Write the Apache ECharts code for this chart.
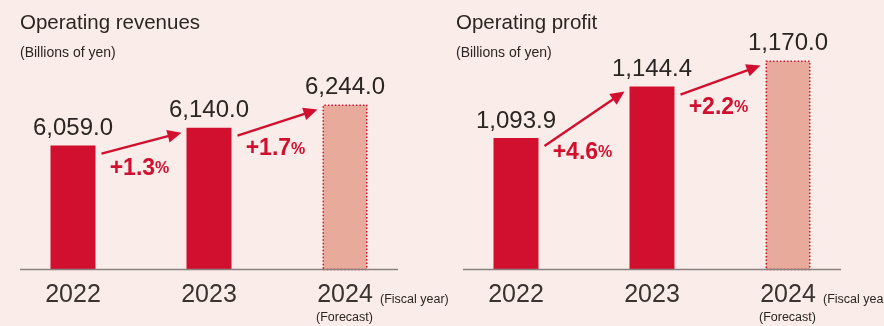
<!DOCTYPE html>
<html>
<head>
<meta charset="utf-8">
<script src="https://cdn.jsdelivr.net/npm/echarts@6/dist/echarts.min.js"></script>
<style>
  html, body { margin: 0; padding: 0; background: #faece8; }
  #chart { width: 884px; height: 326px; }
</style>
</head>
<body>
<div id="chart"></div>
<script>
// Fiscal years and results (billions of yen); the last year is a forecast
const years = ['2022', '2023', '2024'];
const revenue = [6059.0, 6140.0, 6244.0];
const profit = [1093.9, 1144.4, 1170.0];
const revenueGrowth = ['+1.3', '+1.7'];
const profitGrowth = ['+4.6', '+2.2'];
const titles = ['Operating revenues', 'Operating profit'];
const unitLabel = '(Billions of yen)';
const fiscalLabel = '(Fiscal year)';
const forecastLabel = '(Forecast)';
const forecastIndex = 2;

const RED = '#d10f2f';
const FORECAST_FILL = '#e8ab9b';
const TEXT = '#2b2523';
const FONT = '"Liberation Sans", Arial, Helvetica, sans-serif';

const panels = [
  { values: revenue, growth: revenueGrowth, min: 5500, max: 6549, left: 5, titleX: 20 },
  { values: profit, growth: profitGrowth, min: 965, max: 1193, left: 448, titleX: 456 }
];
const BAR_W = 45;

const chart = echarts.init(document.getElementById('chart'));

function fmt(v) {
  return v.toLocaleString('en-US', { minimumFractionDigits: 1, maximumFractionDigits: 1 });
}

chart.setOption({
  backgroundColor: '#faece8',
  textStyle: { fontFamily: FONT },
  animation: false,
  title: panels.flatMap((p, i) => [
    { text: titles[i], left: p.titleX, top: 13, padding: 0,
      textStyle: { fontSize: 20.5, fontWeight: 'normal', color: TEXT, fontFamily: FONT } },
    { text: unitLabel, left: p.titleX, top: 46, padding: 0,
      textStyle: { fontSize: 14, fontWeight: 'normal', color: TEXT, fontFamily: FONT } }
  ]),
  grid: panels.map(p => ({ left: p.left, width: 408, top: 37, bottom: 56.5 })),
  xAxis: panels.map((p, i) => ({
    type: 'category', gridIndex: i, data: years,
    axisLine: { show: false }, axisTick: { show: false },
    axisLabel: { fontSize: 25, color: '#3a3331', margin: 13, fontFamily: FONT }
  })),
  yAxis: panels.map((p, i) => ({
    type: 'value', gridIndex: i, min: p.min, max: p.max, show: false,
    splitLine: { show: false }
  })),
  series: panels.map((p, i) => ({
    type: 'bar', xAxisIndex: i, yAxisIndex: i, barWidth: BAR_W,
    data: p.values.map((v, k) => k === forecastIndex
      ? { value: v, itemStyle: { color: FORECAST_FILL, borderColor: RED, borderWidth: 1.5, borderType: [1.5, 2] } }
      : { value: v, itemStyle: { color: RED } }),
    label: {
      show: true, position: 'top', distance: 5,
      fontSize: 24, color: TEXT, fontFamily: FONT,
      formatter: d => fmt(d.value)
    }
  }))
});

// Annotations: baseline, growth arrows, growth labels and axis notes
function arrow(x1, y1, x2, y2) {
  const dx = x2 - x1, dy = y2 - y1, len = Math.hypot(dx, dy);
  const ux = dx / len, uy = dy / len;
  const headLen = 14, headHalf = 6.5;
  const bx = x2 - ux * headLen, by = y2 - uy * headLen;
  return [
    { type: 'line', z: 10, shape: { x1, y1, x2: bx + ux * 2, y2: by + uy * 2 },
      style: { stroke: RED, lineWidth: 2.4 } },
    { type: 'polygon', z: 10,
      shape: { points: [[x2, y2], [bx - uy * headHalf, by + ux * headHalf], [bx + uy * headHalf, by - ux * headHalf]] },
      style: { fill: RED } }
  ];
}

const graphics = [];
panels.forEach((p, i) => {
  const px = (k, v) => chart.convertToPixel({ xAxisIndex: i, yAxisIndex: i }, [k, v]);
  const base0 = px(0, p.min), base1 = px(1, p.min), base2 = px(2, p.min);
  const step = base1[0] - base0[0];
  const baseY = base0[1];
  graphics.push({ type: 'line', z: 5,
    shape: { x1: base0[0] - 0.39 * step, y1: baseY, x2: base2[0] + 0.39 * step, y2: baseY },
    style: { stroke: '#8a8280', lineWidth: 1.5 } });

  const hw = BAR_W / 2;
  p.growth.forEach((g, k) => {
    const a = px(k, p.values[k]);
    const b = px(k + 1, p.values[k + 1]);
    const sx = a[0] + hw + 6, sy = a[1] + 8;
    const tx = b[0] - hw - 5, ty = b[1] + 5;
    graphics.push(...arrow(sx, sy, tx, ty));
    // steeper arrows push their label further down
    const slope = Math.abs((ty - sy) / (tx - sx));
    graphics.push({
      type: 'text', z: 10,
      x: (sx + tx) / 2 - 2, y: (sy + ty) / 2 + 20 + 20 * slope,
      style: {
        text: '{n|' + g + '}{p|%}',
        align: 'center', verticalAlign: 'middle',
        rich: {
          n: { fontSize: 23, fontWeight: 'bold', fill: RED, fontFamily: FONT },
          p: { fontSize: 16, fontWeight: 'bold', fill: RED, fontFamily: FONT }
        }
      }
    });
  });

  const fc = base2[0];
  graphics.push({ type: 'text', z: 10, x: fc + 35, y: baseY + 30,
    style: { text: fiscalLabel, fontSize: 12.5, fill: TEXT, fontFamily: FONT, align: 'left', verticalAlign: 'middle' } });
  graphics.push({ type: 'text', z: 10, x: fc - 29, y: baseY + 48.5,
    style: { text: forecastLabel, fontSize: 12.5, fill: TEXT, fontFamily: FONT, align: 'left', verticalAlign: 'middle' } });
});

chart.setOption({ graphic: graphics });
</script>
</body>
</html>
